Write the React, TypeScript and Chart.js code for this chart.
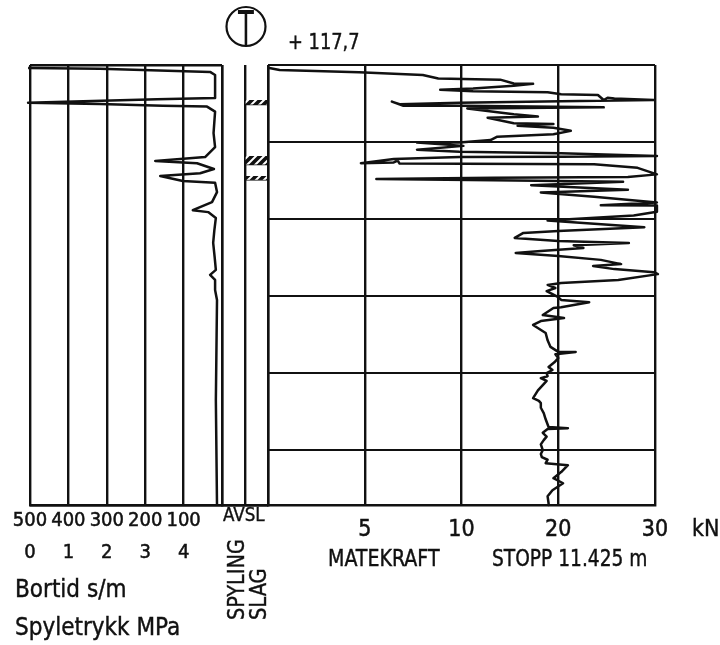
import React, { useEffect, useRef } from "react";
import { Chart, registerables } from "chart.js";

Chart.register(...registerables);

const INK = "#111111";
const FONT = '"DejaVu Sans Condensed", "DejaVu Sans", sans-serif';

// Boring depth (m), common vertical axis
const DEPTH_MAX = 11.425;

// Bortid (s/m) against depth
const bortidDepth = [0.08, 0.1, 0.18, 0.26, 0.86, 0.89, 0.98, 1.01, 1.06, 1.08, 1.21, 1.77, 2.13, 2.39, 2.49, 2.55, 2.7, 2.81, 2.88, 3.01, 3.06, 3.3, 3.56, 3.77, 3.82, 3.97, 4.3, 4.62, 5.0, 5.32, 5.45, 5.58, 5.84, 6.1, 8.7, 11.425];
const bortidValue = [505, 318, 31, 18, 18, 169, 505, 318, 154, 39, 18, 22, 18, 44, 174, 65, 21, 57, 161, 102, 18, 13, 26, 76, 36, 16, 20, 23, 19, 16, 31, 18, 18, 13, 16, 13];
const bortidTicks = ["500", "400", "300", "200", "100"];
const trykkTicks = ["0", "1", "2", "3", "4"];

// Matekraft (kN) against depth
const forceDepth = [0.07, 0.13, 0.19, 0.26, 0.35, 0.38, 0.48, 0.49, 0.54, 0.61, 0.64, 0.68, 0.71, 0.76, 0.78, 0.91, 0.85, 0.87, 0.91, 0.94, 0.98, 1.02, 0.95, 1.06, 1.06, 1.1, 1.13, 1.28, 1.34, 1.37, 1.51, 1.53, 1.58, 1.63, 1.71, 1.8, 1.86, 1.95, 2.01, 2.01, 2.1, 2.2, 2.25, 2.29, 2.36, 2.38, 2.39, 2.44, 2.55, 2.53, 2.48, 2.56, 2.58, 2.67, 2.84, 2.91, 2.93, 2.96, 2.99, 3.03, 3.12, 3.24, 3.31, 3.42, 3.57, 3.64, 3.65, 3.81, 3.91, 4.04, 4.21, 4.31, 4.36, 4.49, 4.57, 4.62, 4.68, 4.75, 4.83, 4.88, 4.96, 5.06, 5.17, 5.22, 5.3, 5.38, 5.43, 5.58, 5.66, 5.71, 5.79, 5.87, 6.03, 6.1, 6.16, 6.29, 6.31, 6.49, 6.57, 6.65, 6.75, 6.96, 7.15, 7.32, 7.45, 7.45, 7.51, 7.61, 7.72, 7.84, 7.92, 8.0, 8.08, 8.13, 8.2, 8.31, 8.45, 8.65, 8.72, 8.78, 8.9, 9.04, 9.2, 9.4, 9.43, 9.45, 9.55, 9.65, 9.74, 9.85, 10.0, 10.1, 10.18, 10.25, 10.34, 10.39, 10.57, 10.73, 10.86, 11.04, 11.2, 11.38, 11.425];
const forceValue = [0, 0.6, 4.7, 8.0, 8.8, 14.0, 15.4, 17.4, 15.4, 11.2, 8.9, 11.2, 18.9, 20.3, 24.1, 24.7, 25.1, 25.8, 29.9, 20.3, 9.9, 6.8, 6.4, 7.0, 9.9, 24.7, 10.6, 15.4, 17.9, 12.7, 15.4, 19.5, 15.8, 19.5, 21.3, 19.5, 13.7, 13.0, 9.9, 7.7, 10.2, 7.7, 9.9, 20.3, 30.2, 20.3, 9.9, 6.5, 4.8, 6.5, 6.7, 6.8, 23.7, 28.2, 30.2, 27.2, 13.3, 5.6, 13.3, 26.7, 17.2, 27.2, 18.2, 23.7, 30.2, 24.4, 30.2, 30.2, 27.8, 18.9, 28.9, 20, 16.4, 15.5, 20, 27.3, 21.6, 22.6, 18.2, 15.6, 20, 24.4, 26.5, 23.6, 25.8, 29.9, 30.3, 26.2, 20.3, 18.9, 19.7, 18.8, 20, 20.3, 23.2, 20.3, 19.5, 18.4, 20.6, 18.2, 17.4, 18.7, 18.9, 19.2, 20, 21.8, 19.7, 20, 19.6, 19.0, 19.4, 18.8, 18.9, 18.2, 18.8, 18.4, 17.9, 17.4, 18.0, 18.2, 18.2, 18.5, 18.7, 19.0, 21.0, 18.9, 18.4, 18.8, 18.5, 18.2, 18.4, 18.2, 18.3, 18.9, 18.7, 21.0, 20.3, 19.5, 20.5, 19.4, 18.9, 19.0, 19.0];
const forceBreaks = [0, 5, 10, 20, 30]; // equally spaced on the plot
const forceTicks = ["", "5", "10", "20", "30"];

// Avslag columns
const columns = ["SPYLING", "SLAG"];
const slagIntervals: [number, number][] = [[0.91, 1.04], [2.36, 2.6], [2.88, 3.0]];

const toDivision = (kN: number) => {
  for (let i = 0; i < forceBreaks.length - 2; i++) {
    if (kN <= forceBreaks[i + 1]) return i + (kN - forceBreaks[i]) / (forceBreaks[i + 1] - forceBreaks[i]);
  }
  return 3 + (kN - 20) / 10;
};

const W = 720;
const H = 645;
const TOP = 65;
const BOTTOM = 505;
const AXIS_H = 70;

const flatten = (s: any) => {
  s.paddingLeft = 0;
  s.paddingRight = 0;
  s.paddingTop = 0;
  s.paddingBottom = 0;
};

const fitX = (s: any) => {
  s.height = AXIS_H;
  flatten(s);
};

const yAxis = (ticks: number[] | null, gridWidth = 2.4) => ({
  reverse: true,
  min: 0,
  max: DEPTH_MAX,
  border: { display: false },
  grid: { color: INK, lineWidth: gridWidth, drawTicks: false },
  ticks: { display: false, stepSize: 2 },
  afterFit: (s: any) => {
    s.width = 0;
    flatten(s);
  },
  afterBuildTicks: (s: any) => {
    if (ticks) s.ticks = ticks.map((value) => ({ value }));
  },
});

const padding = (left: number, right: number) => ({ left, right: W - right, top: TOP, bottom: H - BOTTOM - AXIS_H });

const base = {
  responsive: false,
  animation: false as const,
  plugins: { legend: { display: false }, tooltip: { enabled: false } },
};

const curve = (data: { x: number; y: number }[]) => ({
  type: "scatter" as const,
  data,
  showLine: true,
  pointRadius: 0,
  borderColor: INK,
  borderWidth: 2.5,
  borderJoinStyle: "round" as const,
  tension: 0,
  clip: false as const,
});

const makeHatch = () => {
  const c = document.createElement("canvas");
  c.width = 8;
  c.height = 8;
  const g = c.getContext("2d")!;
  g.fillStyle = INK;
  g.fillRect(0, 0, 8, 8);
  g.strokeStyle = "#ffffff";
  g.lineWidth = 2;
  g.beginPath();
  g.moveTo(-2, 6);
  g.lineTo(6, -2);
  g.moveTo(2, 10);
  g.lineTo(10, 2);
  g.stroke();
  return g.createPattern(c, "repeat")!;
};

const text = (
  content: string,
  left: number,
  top: number,
  size: number,
  scale = 1,
  rotated = false,
) => (
  <div
    style={{
      position: "absolute",
      left,
      top,
      fontFamily: FONT,
      fontSize: size,
      lineHeight: 1,
      color: INK,
      whiteSpace: "nowrap",
      WebkitTextStroke: "0.4px #111111",
      transformOrigin: "0 0",
      transform: `${rotated ? "rotate(-90deg) " : ""}scaleX(${scale})`,
    }}
  >
    {content}
  </div>
);

const canvasStyle: React.CSSProperties = { position: "absolute", left: 0, top: 0 };

export default function App() {
  const leftRef = useRef<HTMLCanvasElement>(null);
  const midRef = useRef<HTMLCanvasElement>(null);
  const rightRef = useRef<HTMLCanvasElement>(null);

  useEffect(() => {
    const left = new Chart(leftRef.current!, {
      type: "scatter",
      data: { datasets: [curve(bortidValue.map((x, i) => ({ x, y: bortidDepth[i] })))] },
      options: {
        ...base,
        layout: { padding: padding(30, 222) },
        scales: {
          x: {
            type: "linear",
            reverse: true,
            min: 0,
            max: 500,
            border: { color: INK, width: 2.4 },
            grid: { color: INK, lineWidth: 2.4, drawTicks: false },
            ticks: {
              stepSize: 100,
              autoSkip: false,
              maxRotation: 0,
              color: INK,
              padding: 0,
              textStrokeColor: INK,
              textStrokeWidth: 0.5,
              font: { family: FONT, size: 20, lineHeight: 1.6 },
              callback: (v: any) => {
                const i = 5 - Number(v) / 100;
                return i < 5 ? [bortidTicks[i], trykkTicks[i]] : "";
              },
            },
            afterFit: fitX,
          },
          y: yAxis([0, DEPTH_MAX]),
        },
      } as any,
    });

    const hatch = makeHatch();
    const mid = new Chart(midRef.current!, {
      type: "bar",
      data: {
        labels: columns,
        datasets: slagIntervals.map((iv) => ({
          data: [null, iv],
          backgroundColor: hatch,
          borderColor: INK,
          borderWidth: 1,
          barPercentage: 1,
          categoryPercentage: 1,
          grouped: false,
        })),
      } as any,
      options: {
        ...base,
        layout: { padding: padding(222, 268) },
        scales: {
          x: {
            type: "category",
            border: { color: INK, width: 2.4 },
            grid: { color: INK, lineWidth: 2.4, drawTicks: false },
            ticks: { display: false },
            afterFit: fitX,
          },
          y: yAxis([DEPTH_MAX]),
        },
      } as any,
    });

    const right = new Chart(rightRef.current!, {
      type: "scatter",
      data: { datasets: [curve(forceValue.map((kN, i) => ({ x: toDivision(kN), y: forceDepth[i] })))] },
      options: {
        ...base,
        layout: { padding: padding(268, 655) },
        scales: {
          x: {
            type: "linear",
            min: 0,
            max: forceBreaks.length - 1,
            border: { color: INK, width: 2.4 },
            grid: { color: INK, lineWidth: 2.4, drawTicks: false },
            ticks: {
              stepSize: 1,
              autoSkip: false,
              maxRotation: 0,
              color: INK,
              padding: 11,
              textStrokeColor: INK,
              textStrokeWidth: 0.5,
              font: { family: FONT, size: 23 },
              callback: (v: any) => forceTicks[Number(v)] ?? "",
            },
            afterFit: fitX,
          },
          y: yAxis(null, 2),
        },
      } as any,
    });

    return () => {
      left.destroy();
      mid.destroy();
      right.destroy();
    };
  }, []);

  return (
    <div style={{ position: "fixed", left: 0, top: 0, width: W, height: H, background: "#fff", overflow: "hidden" }}>
      <canvas ref={leftRef} width={W} height={H} style={canvasStyle} />
      <canvas ref={midRef} width={W} height={H} style={canvasStyle} />
      <canvas ref={rightRef} width={W} height={H} style={canvasStyle} />

      <svg width={W} height={60} style={{ position: "absolute", left: 0, top: 0 }}>
        <circle cx={246} cy={26.5} r={19.5} fill="none" stroke={INK} strokeWidth={2.2} />
        <text
          transform="translate(246 45) scale(0.72 1.2)"
          textAnchor="middle"
          fontFamily={FONT}
          fontSize={40}
          fill={INK}
        >
          T
        </text>
      </svg>

      {text("+ 117,7", 288, 31, 22, 0.9)}
      {text("AVSL", 223, 504, 20, 0.93)}
      {text("kN", 692, 517, 23)}
      {text("MATEKRAFT", 328, 547, 23, 0.92)}
      {text("STOPP 11.425 m", 492, 547, 23, 0.9)}
      {text("Bortid s/m", 15, 577, 24)}
      {text("Spyletrykk MPa", 15, 615, 24)}
      {text(columns[0], 225, 620, 23, 0.93, true)}
      {text(columns[1], 247, 620, 23, 0.94, true)}
    </div>
  );
}
